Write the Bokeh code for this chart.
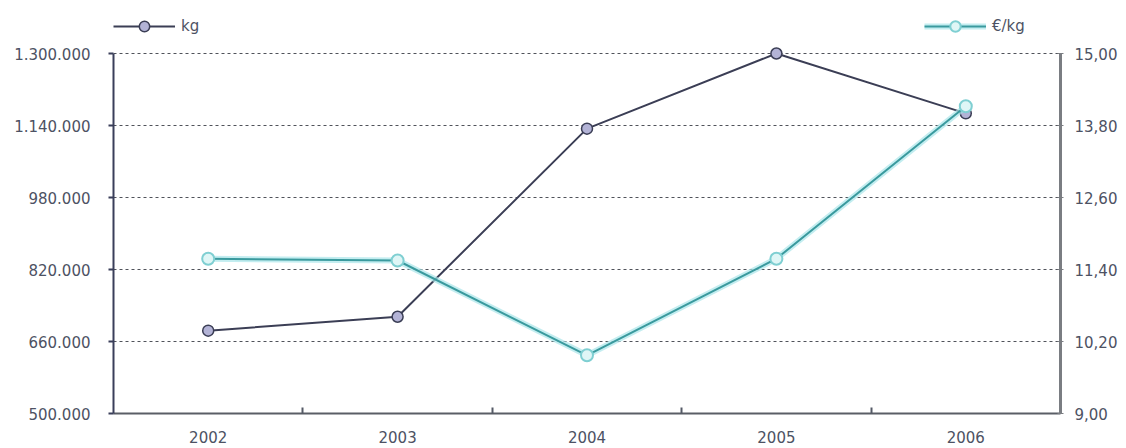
from bokeh.plotting import figure
from bokeh.models import (Range1d, LinearAxis, FixedTicker, ColumnDataSource,
                          Legend, LegendItem)
from bokeh.embed import file_html
from bokeh.resources import INLINE

# ---- data ----
years = ["2002", "2003", "2004", "2005", "2006"]
kg = [684000, 715000, 1133000, 1300000, 1167000]
eur_kg = [11.58, 11.55, 9.97, 11.58, 14.12]
kg_ticks = [500000, 660000, 820000, 980000, 1140000, 1300000]
eur_ticks = [9.0, 10.2, 11.4, 12.6, 13.8, 15.0]

FONT = "DejaVu Sans"
TXT = "#4d5263"

# layout: data area 360px tall, plus 48px of headroom for the legends
DATA_PX = 360
HEAD_PX = 48
kg_top = kg_ticks[-1] + (kg_ticks[-1] - kg_ticks[0]) * HEAD_PX / DATA_PX
eur_top = eur_ticks[-1] + (eur_ticks[-1] - eur_ticks[0]) * HEAD_PX / DATA_PX

xs = list(range(len(years)))
src = ColumnDataSource(dict(x=xs, kg=kg, eur=eur_kg))

p = figure(width=1120, height=446, output_backend="svg", toolbar_location=None,
           x_range=Range1d(-0.5, len(years) - 0.5),
           y_range=Range1d(kg_ticks[0], kg_top),
           min_border_left=113, min_border_right=58, min_border_top=5,
           min_border_bottom=33)
p.outline_line_color = None
p.background_fill_color = "white"
p.border_fill_color = "white"
p.extra_y_ranges = {"eur": Range1d(eur_ticks[0], eur_top)}

# x axis
xa = p.xaxis[0]
xa.ticker = FixedTicker(ticks=xs, minor_ticks=[i + 0.5 for i in xs[:-1]])
xa.major_label_overrides = {i: y for i, y in zip(xs, years)}
xa.major_tick_in = 0
xa.major_tick_out = 0
xa.minor_tick_in = 6
xa.minor_tick_out = 0
xa.minor_tick_line_color = "#555a66"
xa.minor_tick_line_width = 2
xa.axis_line_color = "#5a5e66"
xa.axis_line_width = 2
xa.major_label_standoff = 17
xa.major_label_text_font = FONT
xa.major_label_text_font_size = "15px"
xa.major_label_text_color = TXT

# left axis
ya = p.yaxis[0]
ya.ticker = FixedTicker(ticks=kg_ticks)
ya.bounds = (kg_ticks[0], kg_ticks[-1])
ya.major_label_overrides = {t: f"{t:,}".replace(",", ".") for t in kg_ticks}
ya.minor_tick_line_color = None
ya.major_tick_in = 0
ya.major_tick_out = 5
ya.major_tick_line_color = "#3a3f5a"
ya.major_tick_line_width = 2
ya.axis_line_color = "#3a3f5a"
ya.axis_line_width = 2
ya.major_label_standoff = 18
ya.major_label_text_font = FONT
ya.major_label_text_font_size = "15px"
ya.major_label_text_color = TXT

# right axis
ra = LinearAxis(y_range_name="eur", ticker=FixedTicker(ticks=eur_ticks),
                bounds=(eur_ticks[0], eur_ticks[-1]))
ra.major_label_overrides = {t: f"{t:.2f}".replace(".", ",") for t in eur_ticks}
ra.minor_tick_line_color = None
ra.major_tick_in = 3
ra.major_tick_out = 3
ra.major_tick_line_color = "#7a7d82"
ra.axis_line_color = "#7a7d82"
ra.axis_line_width = 3
ra.major_label_standoff = 11
ra.major_label_text_font = FONT
ra.major_label_text_font_size = "15px"
ra.major_label_text_color = TXT
p.add_layout(ra, "right")

# grid
p.xgrid.grid_line_color = None
p.ygrid.ticker = FixedTicker(ticks=kg_ticks)
p.ygrid.grid_line_color = "#50535a"
p.ygrid.grid_line_dash = "3 3"
p.ygrid.grid_line_width = 1

# kg series
l_kg = p.line("x", "kg", source=src, line_color="#3b3e55", line_width=2)
m_kg = p.scatter("x", "kg", source=src, marker="circle", size=11,
                 fill_color="#b3b3d6", line_color="#3b3e55", line_width=1.5)

# €/kg series with glow
g_eur = p.line("x", "eur", source=src, y_range_name="eur",
               line_color="#a9e6ea", line_width=6, line_alpha=0.7)
l_eur = p.line("x", "eur", source=src, y_range_name="eur",
               line_color="#3a9a9e", line_width=2)
m_eur = p.scatter("x", "eur", source=src, y_range_name="eur", marker="circle",
                  size=12, fill_color="#dff6f6", line_color="#7fcfd2", line_width=2)

def make_legend(label, rends, loc):
    return Legend(items=[LegendItem(label=label, renderers=rends)], location=loc,
                  orientation="horizontal", glyph_width=62, glyph_height=26,
                  label_standoff=6, padding=0, margin=0, spacing=0,
                  border_line_color=None, background_fill_alpha=0,
                  label_text_font=FONT, label_text_font_size="15px",
                  label_text_color=TXT, label_height=26)

p.add_layout(make_legend("kg", [l_kg, m_kg], (0, 374)))
p.add_layout(make_legend("€/kg", [g_eur, l_eur, m_eur], (811, 374)))

open("out.html", "w").write(file_html(p, INLINE))
